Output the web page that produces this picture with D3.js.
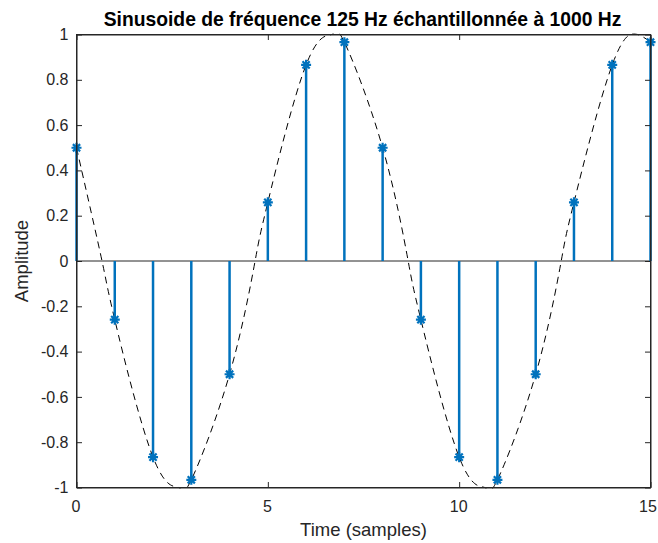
<!DOCTYPE html>
<html><head><meta charset="utf-8">
<script src="https://cdn.jsdelivr.net/npm/d3@7"></script>
<style>body{margin:0;background:#fff}svg{display:block}</style>
</head><body>
<script>
// Data
const samples = [0,1,2,3,4,5,6,7,8,9,10,11,12,13,14,15];
const amplitudes = [0.5,-0.259,-0.866,-0.966,-0.5,0.259,0.866,0.966,0.5,-0.259,-0.866,-0.966,-0.5,0.259,0.866,0.966];
// Dashed continuous curve: key points (samples + extrema)
const curveT = [0,0.667,1,2,2.667,3,4,4.667,5,6,6.667,7,8,8.667,9,10,10.667,11,12,12.667,13,14,14.667,15];
const curveY = [0.5,0,-0.259,-0.866,-1,-0.966,-0.5,0,0.259,0.866,1,0.966,0.5,0,-0.259,-0.866,-1,-0.966,-0.5,0,0.259,0.866,1,0.966];
const xTicks = [0,5,10,15];
const yTicks = [-1,-0.8,-0.6,-0.4,-0.2,0,0.2,0.4,0.6,0.8,1];
const titleText = "Sinusoide de fréquence 125 Hz échantillonnée à 1000 Hz";
const xLabel = "Time (samples)";
const yLabel = "Amplitude";

const W = 658, H = 543;
const L = 76.5, R = 650.5, T = 34.5, B = 487.5;
const axisColor = "#262626";
const stemColor = "#0072BD";
const font = "'Liberation Sans', Arial, Helvetica, sans-serif";

const svg = d3.select("body").append("svg").attr("width", W).attr("height", H);
const x = d3.scaleLinear().domain([0,15]).range([L,R]);
const y = d3.scaleLinear().domain([-1,1]).range([B,T]);

svg.append("defs").append("clipPath").attr("id","c")
  .append("rect").attr("x",L).attr("y",T-1).attr("width",R-L).attr("height",B-T+2);

// baseline
svg.append("line").attr("x1",L).attr("x2",R).attr("y1",y(0)).attr("y2",y(0))
  .attr("stroke",axisColor).attr("stroke-width",1);

// dashed curve
const pts = curveT.map((t,i)=>[t,curveY[i]]);
svg.append("path").datum(pts)
  .attr("clip-path","url(#c)")
  .attr("d", d3.line().x(d=>x(d[0])).y(d=>y(d[1])).curve(d3.curveNatural))
  .attr("fill","none").attr("stroke","#000").attr("stroke-width",1)
  .attr("stroke-dasharray","7,5");

// stems
const g = svg.append("g");
g.selectAll("line.stem").data(samples).join("line").attr("class","stem")
  .attr("x1",(d)=>x(d)).attr("x2",(d)=>x(d))
  .attr("y1",y(0)).attr("y2",(d,i)=>y(amplitudes[i]))
  .attr("stroke",stemColor).attr("stroke-width",2.5);

// asterisk markers
const r = 5, rd = r*0.72;
const star = `M${-r},0L${r},0M0,${-r}L0,${r}M${-rd},${-rd}L${rd},${rd}M${-rd},${rd}L${rd},${-rd}`;
g.selectAll("path.mk").data(samples).join("path").attr("class","mk")
  .attr("transform",(d,i)=>`translate(${x(d)},${y(amplitudes[i])})`)
  .attr("d",star).attr("stroke",stemColor).attr("stroke-width",2.2).attr("fill","none");

// box
svg.append("rect").attr("x",L).attr("y",T).attr("width",R-L).attr("height",B-T)
  .attr("fill","none").attr("stroke",axisColor).attr("stroke-width",1);

// axes
const tickLen = 5.5;
const xAxB = d3.axisBottom(x).tickValues(xTicks).tickSizeInner(-tickLen).tickSizeOuter(0).tickPadding(13).tickFormat(d3.format("d"));
const gx = svg.append("g").attr("transform",`translate(0,${B})`).call(xAxB);
const xAxT = d3.axisTop(x).tickValues(xTicks).tickSizeInner(-tickLen).tickSizeOuter(0).tickFormat("");
const gxt = svg.append("g").attr("transform",`translate(0,${T})`).call(xAxT);
const yAxL = d3.axisLeft(y).tickValues(yTicks).tickSizeInner(-tickLen).tickSizeOuter(0).tickPadding(8)
  .tickFormat(d=> String(+d.toFixed(1)));
const gy = svg.append("g").attr("transform",`translate(${L},0)`).call(yAxL);
const yAxR = d3.axisRight(y).tickValues(yTicks).tickSizeInner(-tickLen).tickSizeOuter(0).tickFormat("");
const gyr = svg.append("g").attr("transform",`translate(${R},0)`).call(yAxR);
[gx,gxt,gy,gyr].forEach(a=>{
  a.select(".domain").attr("stroke",axisColor);
  a.selectAll(".tick line").attr("stroke",axisColor);
  a.selectAll("text").attr("fill",axisColor).style("font-family",font).style("font-size","16px");
});
gx.selectAll(".tick text").attr("dx",(d)=> d===15 ? "-3px" : "-1px");

// labels
svg.append("text").attr("x",362.5).attr("y",26).attr("text-anchor","middle")
  .style("font-family",font).style("font-size","19.3px").style("font-weight","bold").attr("fill","#000")
  .text(titleText);
svg.append("text").attr("x",(L+R)/2).attr("y",536).attr("text-anchor","middle")
  .style("font-family",font).style("font-size","18.5px").attr("fill",axisColor).text(xLabel);
svg.append("text").attr("transform",`translate(28,${(T+B)/2}) rotate(-90)`).attr("text-anchor","middle")
  .style("font-family",font).style("font-size","18.5px").attr("fill",axisColor).text(yLabel);
</script>
</body></html>
